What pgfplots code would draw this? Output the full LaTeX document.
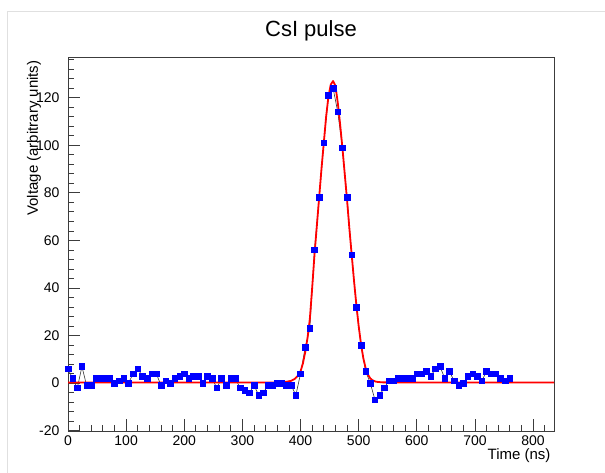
\documentclass[border=0pt]{standalone}
\usepackage{fontspec}
\setmainfont{Liberation Sans}
\usepackage{pgfplots}
\pgfplotsset{compat=1.18}
\definecolor{rootblue}{RGB}{0,0,255}
\definecolor{rootred}{RGB}{255,0,0}
\definecolor{framegray}{RGB}{60,60,60}

\begin{document}
\begin{tikzpicture}[x=1pt,y=1pt]
\path[use as bounding box] (0,0) rectangle (605,473);
% canvas edge of the screenshot
\draw[black!12, line width=0.8pt] (7.5,0) -- (7.5,461.5) -- (605,461.5);
\node[font=\fontsize{22}{22}\selectfont] at (311,442) {CsI pulse};
\node[font=\fontsize{15}{15}\selectfont, rotate=90, anchor=east] at (34,416) {Voltage (arbitrary units)};
\node[font=\fontsize{15}{15}\selectfont, anchor=east] at (554,17) {Time (ns)};

\begin{axis}[
  at={(68pt,42pt)}, anchor=south west,
  width=486pt, height=374pt, scale only axis,
  xmin=0, xmax=836, ymin=-20.1, ymax=137.1,
  xtick={0,100,...,800},
  ytick={-20,0,...,120},
  minor xtick={20,40,...,820},
  minor ytick={-16,-12,...,136},
  tick pos=left,
  tick align=inside,
  major tick length=12pt,
  minor tick length=6pt,
  axis line style={framegray, line width=0.8pt},
  every tick/.style={framegray, line width=0.8pt},
  ticklabel style={font=\fontsize{14}{14}\selectfont},
  /pgf/number format/assume math mode=true,
  yticklabel style={xshift=-5pt},
  xticklabel style={yshift=-1pt},
  clip=true,
]
% measured samples
\addplot[black!80, line width=0.6pt, mark=square*, mark size=2.8pt,
  mark options={fill=rootblue, draw=rootblue}] coordinates {
  (0,6) (8,2) (16,-2) (24,7) (32,-1) (40,-1) (48,2) (56,2) (64,2) (72,2)
  (80,0) (88,1) (96,2) (104,0) (112,4) (120,6) (128,3) (136,2) (144,4) (152,4)
  (160,-1) (168,1) (176,0) (184,2) (192,3) (200,4) (208,2) (216,3) (224,3) (232,0)
  (240,3) (248,2) (256,-2) (264,2) (272,-1) (280,2) (288,2) (296,-2) (304,-3) (312,-4)
  (320,-1) (328,-5) (336,-4) (344,-1) (352,-1) (360,0) (368,0) (376,-1) (384,-1) (392,-5)
  (400,4) (408,15) (416,23) (424,56) (432,78) (440,101) (448,121) (456,124) (464,114) (472,99)
  (480,78) (488,54) (496,32) (504,16) (512,5) (520,0) (528,-7) (536,-5) (544,-2) (552,1)
  (560,1) (568,2) (576,2) (584,2) (592,2) (600,4) (608,4) (616,5) (624,3) (632,6)
  (640,7) (648,2) (656,5) (664,1) (672,-1) (680,0) (688,3) (696,4) (704,3) (712,1)
  (720,5) (728,4) (736,4) (744,2) (752,1) (760,2)
};
% fit
\addplot[rootred, line width=1.8pt, line join=round] coordinates {
  (0,0.3) (360,0.3) (376,0.6) (384,1.0) (390,1.8) (396,3.2) (400,5) (404,8.2)
  (408,13) (412,19) (416,27) (420,40) (424,54) (428,66) (432,78) (436,90)
  (440,101) (444,112) (448,120.5) (452,125.5) (456,127) (460,125) (464,118) (468,109)
  (472,99) (476,88) (480,77) (484,65) (488,54) (492,43) (496,33) (500,24)
  (504,16.5) (508,10.5) (512,6.3) (516,3.6) (520,2) (524,1.2) (530,0.6) (540,0.35)
  (560,0.3) (836,0.3)
};
\end{axis}
\end{tikzpicture}
\end{document}
